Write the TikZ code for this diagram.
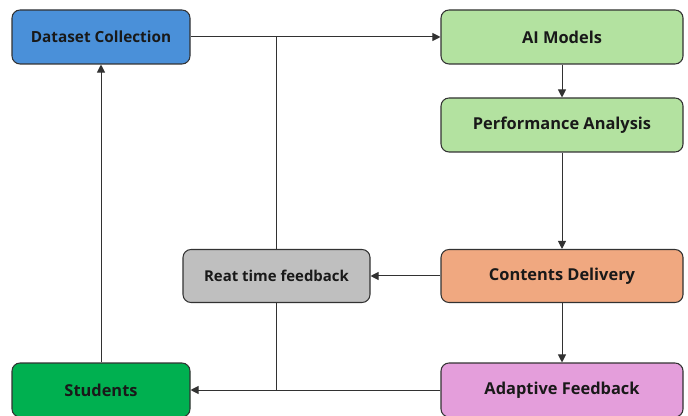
\documentclass[tikz,border=0pt]{standalone}
\usepackage{fontspec}
\setmainfont{Open Sans}
\usetikzlibrary{arrows.meta}

\definecolor{dsblue}{RGB}{74,144,217}
\definecolor{aigreen}{RGB}{179,226,160}
\definecolor{cdorange}{RGB}{240,168,128}
\definecolor{fbgray}{RGB}{191,191,191}
\definecolor{stgreen}{RGB}{0,176,80}
\definecolor{afpink}{RGB}{228,158,219}
\definecolor{edge}{RGB}{50,50,50}

\tikzset{
  box/.style={draw=edge,line width=0.8pt,rounded corners=6pt,minimum height=40.5pt,
    font=\bfseries\fontsize{12.3}{14}\selectfont,text=black!90,inner sep=2pt},
  leftbox/.style={box,minimum width=133.5pt},
  rightbox/.style={box,minimum width=181.5pt},
  link/.style={draw=edge,line width=0.75pt},
  arr/.style={link,-{Triangle[width=6pt,length=6pt]}}
}

\begin{document}
\begin{tikzpicture}[x=0.75pt,y=-0.75pt]
  \useasboundingbox (0,0) rectangle (688,416);
  % boxes
  \node[leftbox,fill=dsblue,font=\bfseries\fontsize{11.5}{14}\selectfont] (DC) at (101,37) {Dataset Collection};
  \node[rightbox,fill=aigreen] (AI) at (562,37)  {AI Models};
  \node[rightbox,fill=aigreen] (PA) at (562,125) {Performance Analysis};
  \node[rightbox,fill=cdorange,minimum height=39.75pt] (CD) at (562,276) {Contents Delivery};
  \node[box,fill=fbgray,minimum width=140.25pt,minimum height=39.75pt,
    font=\bfseries\fontsize{11.2}{13}\selectfont] (RT) at (276.5,276) {Reat time feedback};
  \node[leftbox,fill=stgreen]  (ST) at (101,390) {Students};
  \node[rightbox,fill=afpink]  (AF) at (562,390) {Adaptive Feedback};

  % connectors
  \draw[arr] (DC) -- (AI);
  \draw[arr] (AI) -- (PA);
  \draw[arr] (PA) -- (CD);
  \draw[arr] (CD) -- (RT);
  \draw[arr] (CD) -- (AF);
  \draw[arr] (AF) -- (ST);
  \draw[arr] (ST) -- (DC);
  \draw[link] (RT.north) -- (RT.north |- DC.east);
  \draw[link] (RT.south) -- (RT.south |- ST.east);
\end{tikzpicture}
\end{document}
